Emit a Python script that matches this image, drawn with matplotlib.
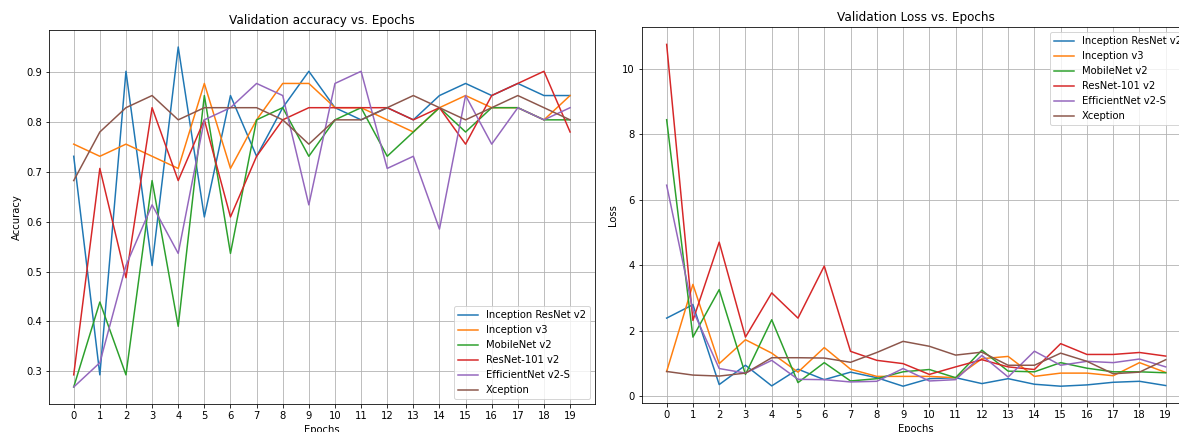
import matplotlib
matplotlib.use("Agg")
import matplotlib.pyplot as plt

epochs = list(range(20))
models = ["Inception ResNet v2", "Inception v3", "MobileNet v2",
          "ResNet-101 v2", "EfficientNet v2-S", "Xception"]

acc_inception_resnet = [0.7317, 0.2927, 0.9024, 0.5122, 0.9512, 0.6098, 0.8537, 0.7317, 0.8293, 0.9024,
                        0.8293, 0.8049, 0.8293, 0.8049, 0.8537, 0.8780, 0.8537, 0.8780, 0.8537, 0.8537]
acc_inception_v3 = [0.7561, 0.7317, 0.7561, 0.7317, 0.7073, 0.8780, 0.7073, 0.8049, 0.8780, 0.8780,
                    0.8293, 0.8293, 0.8049, 0.7805, 0.8293, 0.8537, 0.8293, 0.8293, 0.8049, 0.8537]
acc_mobilenet = [0.2683, 0.4390, 0.2927, 0.6829, 0.3902, 0.8537, 0.5366, 0.8049, 0.8293, 0.7317,
                 0.8049, 0.8293, 0.7317, 0.7805, 0.8293, 0.7805, 0.8293, 0.8293, 0.8049, 0.8049]
acc_resnet = [0.2927, 0.7073, 0.4878, 0.8293, 0.6829, 0.8049, 0.6098, 0.7317, 0.8049, 0.8293,
              0.8293, 0.8293, 0.8293, 0.8049, 0.8293, 0.7561, 0.8537, 0.8780, 0.9024, 0.7805]
acc_efficientnet = [0.2683, 0.3171, 0.5122, 0.6341, 0.5366, 0.8049, 0.8293, 0.8780, 0.8537, 0.6341,
                    0.8780, 0.9024, 0.7073, 0.7317, 0.5854, 0.8537, 0.7561, 0.8293, 0.8049, 0.8293]
acc_xception = [0.6829, 0.7805, 0.8293, 0.8537, 0.8049, 0.8293, 0.8293, 0.8293, 0.8049, 0.7561,
                0.8049, 0.8049, 0.8293, 0.8537, 0.8293, 0.8049, 0.8293, 0.8537, 0.8293, 0.8049]

loss_inception_resnet = [2.38, 2.79, 0.35, 0.94, 0.31, 0.82, 0.50, 0.73, 0.56, 0.30,
                         0.53, 0.56, 0.38, 0.53, 0.36, 0.30, 0.34, 0.42, 0.45, 0.32]
loss_inception_v3 = [0.75, 3.41, 0.99, 1.72, 1.31, 0.73, 1.48, 0.82, 0.60, 0.60,
                     0.60, 0.56, 1.14, 1.21, 0.60, 0.70, 0.70, 0.62, 1.02, 0.72]
loss_mobilenet = [8.44, 1.80, 3.25, 0.66, 2.33, 0.41, 1.02, 0.46, 0.53, 0.74,
                  0.81, 0.56, 1.40, 0.76, 0.74, 1.02, 0.85, 0.74, 0.74, 0.71]
loss_resnet = [10.74, 2.31, 4.70, 1.80, 3.15, 2.38, 3.97, 1.365, 1.09, 0.99,
               0.66, 0.89, 1.11, 0.89, 0.81, 1.60, 1.27, 1.27, 1.33, 1.22]
loss_efficientnet = [6.44, 2.62, 0.84, 0.70, 1.09, 0.51, 0.50, 0.43, 0.45, 0.84,
                     0.46, 0.50, 1.24, 0.58, 1.37, 0.94, 1.06, 1.02, 1.13, 0.89]
loss_xception = [0.75, 0.64, 0.61, 0.70, 1.17, 1.17, 1.16, 1.03, 1.33, 1.67,
                 1.52, 1.25, 1.34, 0.94, 0.94, 1.31, 1.06, 0.68, 0.73, 1.11]

acc_series = [acc_inception_resnet, acc_inception_v3, acc_mobilenet,
              acc_resnet, acc_efficientnet, acc_xception]
loss_series = [loss_inception_resnet, loss_inception_v3, loss_mobilenet,
               loss_resnet, loss_efficientnet, loss_xception]

W, H = 1179, 432
fig = plt.figure(figsize=(W / 72, H / 72), dpi=72)
ax1 = fig.add_axes([48.9 / W, (H - 404) / H, 546 / W, 374 / H])
ax2 = fig.add_axes([641.7 / W, (H - 403.3) / H, 549 / W, 376 / H])

for name, vals in zip(models, acc_series):
    ax1.plot(epochs, vals, label=name)
ax1.set_title("Validation accuracy vs. Epochs")
ax1.set_xlabel("Epochs")
ax1.set_ylabel("Accuracy")
ax1.set_xticks(epochs)
ax1.grid(True)
ax1.legend(loc="lower right")

for name, vals in zip(models, loss_series):
    ax2.plot(epochs, vals, label=name)
ax2.set_title("Validation Loss vs. Epochs")
ax2.set_xlabel("Epochs")
ax2.set_ylabel("Loss")
ax2.set_xticks(epochs)
ax2.grid(True)
ax2.legend(loc="upper right")

fig.savefig("out.png", dpi=72)
